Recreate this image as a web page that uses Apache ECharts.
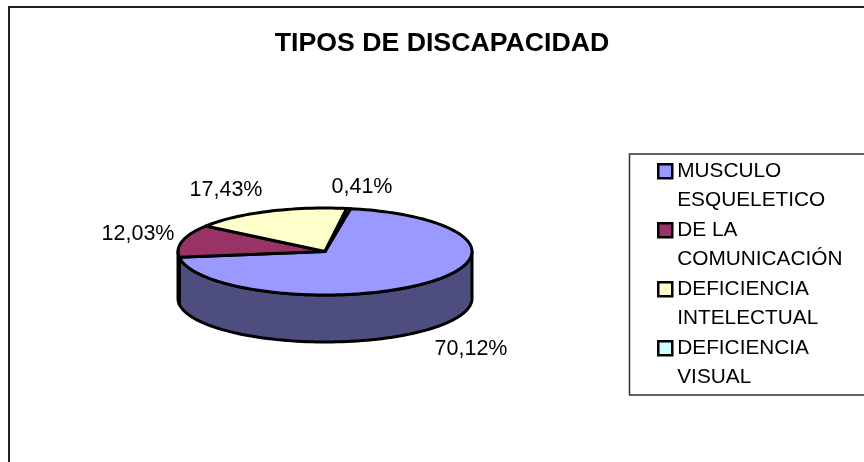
<!DOCTYPE html>
<html>
<head>
<meta charset="utf-8">
<style>
  html, body { margin: 0; padding: 0; background: #fff; }
  #main { width: 864px; height: 462px; }
</style>
<script src="https://cdn.jsdelivr.net/npm/echarts@6/dist/echarts.min.js"></script>
</head>
<body>
<div id="main"></div>
<script>
const categories = ['MUSCULO\nESQUELETICO', 'DE LA\nCOMUNICACIÓN', 'DEFICIENCIA\nINTELECTUAL', 'DEFICIENCIA\nVISUAL'];
const percentages = [70.12, 12.03, 17.43, 0.41];
const topColors = ['#9999FF', '#993366', '#FFFFCC', '#CCFFFF'];
const sideColors = ['#4D4D80', '#4D1A33', '#808066', '#668080'];

// where the percentage text sits for each slice
const labelSpots = [[471, 349], [138, 234], [226, 190], [362, 187]];

const FONT = 'Arial, "Liberation Sans", sans-serif';
const CX = 325, CY = 251.5, RX = 147, RY = 43.5, DEPTH = 47;
const START_DEG = 10;   // clockwise from top of the disc

const total = percentages.reduce((a, b) => a + b, 0);

const ellipsePoint = (deg, dy) => {
    const r = deg * Math.PI / 180;
    return [CX + RX * Math.sin(r), CY - RY * Math.cos(r) + (dy || 0)];
};

const arcPoints = (from, to, dy) => {
    const pts = [];
    const steps = Math.max(2, Math.ceil((to - from) / 2));
    for (let i = 0; i <= steps; i++) {
        pts.push(ellipsePoint(from + (to - from) * i / steps, dy));
    }
    return pts;
};

const makeRenderItem = (index) => (params, api) => {
    const before = percentages.slice(0, index).reduce((a, b) => a + b, 0);
    const from = START_DEG + before / total * 360;
    const to = from + api.value(0) / total * 360;
    const line = { stroke: '#000', lineWidth: 3, lineJoin: 'round' };
    const children = [];

    // outer wall, only the part facing the viewer
    const wallFrom = Math.max(from, 90), wallTo = Math.min(to, 270);
    if (wallTo > wallFrom) {
        const front = arcPoints(wallFrom, wallTo, 0);
        const back = arcPoints(wallFrom, wallTo, DEPTH).reverse();
        children.push({
            type: 'polygon',
            shape: { points: front.concat(back) },
            style: Object.assign({ fill: sideColors[index] }, line)
        });
    }
    children.push({
        type: 'polygon',
        shape: { points: [[CX, CY]].concat(arcPoints(from, to, 0)) },
        style: Object.assign({ fill: topColors[index] }, line)
    });
    children.push({
        type: 'text',
        z2: 10,
        style: {
            x: labelSpots[index][0],
            y: labelSpots[index][1],
            text: api.value(0).toFixed(2).replace('.', ',') + '%',
            fill: '#000',
            font: '21.5px ' + FONT,
            align: 'center',
            verticalAlign: 'middle'
        }
    });
    return { type: 'group', children };
};

const chart = echarts.init(document.getElementById('main'), null, { renderer: 'canvas' });

const option = {
    animation: false,
    backgroundColor: '#fff',
    title: {
        text: 'TIPOS DE DISCAPACIDAD',
        left: 442,
        top: 44,
        padding: 0,
        textAlign: 'center',
        textVerticalAlign: 'middle',
        textStyle: { fontFamily: FONT, fontSize: 26.7, fontWeight: 'bold', color: '#000' }
    },
    legend: {
        orient: 'vertical',
        left: 657,
        top: 127,
        height: 320,
        padding: 0,
        itemGap: -29.5,
        itemWidth: 14,
        itemHeight: 14,
        icon: 'rect',
        selectedMode: false,
        itemStyle: { borderColor: '#000', borderWidth: 2.5 },
        formatter: (name) => '\n' + name,
        textStyle: { fontFamily: FONT, fontSize: 20.8, lineHeight: 29.5, color: '#000' },
        data: categories
    },
    graphic: [
        { type: 'rect', silent: true, z: -1, shape: { x: 9, y: 7, width: 900, height: 500 }, style: { fill: '#fff', stroke: '#222', lineWidth: 2 } },
        { type: 'rect', silent: true, z: 0, shape: { x: 629.5, y: 154, width: 300, height: 241 }, style: { fill: '#fff', stroke: '#333', lineWidth: 1.5 } }
    ],
    series: categories.map((name, i) => ({
        name,
        type: 'custom',
        coordinateSystem: 'none',
        itemStyle: { color: topColors[i] },
        renderItem: makeRenderItem(i),
        data: [percentages[i]]
    }))
};

chart.setOption(option);
</script>
</body>
</html>
